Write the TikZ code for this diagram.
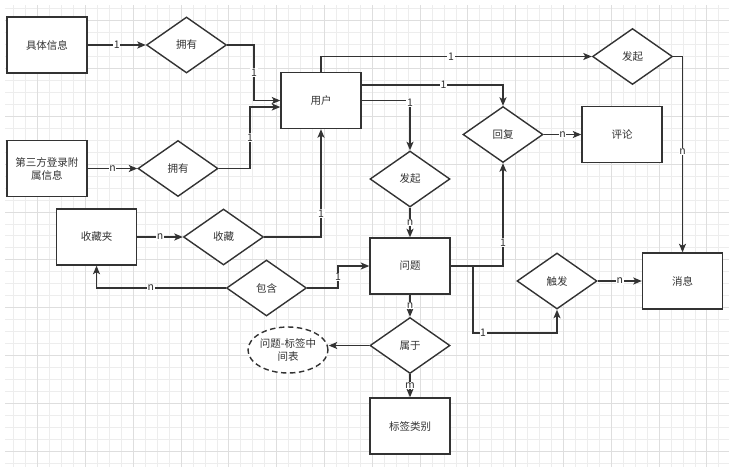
\documentclass[tikz,border=0pt]{standalone}
\usepackage{fontspec}
\setmainfont{Noto Sans CJK SC}
\usetikzlibrary{shapes.geometric,arrows.meta}
\definecolor{ln}{HTML}{333333}
\definecolor{gmin}{HTML}{EDEDED}
\definecolor{gmaj}{HTML}{DEDEDE}
\begin{document}
\begin{tikzpicture}[x=1pt,y=-1pt,
  ent/.style={draw=ln,line width=1.4pt,rectangle,minimum width=80pt,minimum height=56pt,inner sep=0pt,fill=white,text=ln,font=\fontsize{10.5}{13}\selectfont,align=center},
  rel/.style={draw=ln,line width=1.4pt,diamond,aspect=1.43,minimum width=80pt,minimum height=56pt,inner sep=0pt,fill=white,text=ln,font=\fontsize{10.5}{13}\selectfont},
  conn/.style={draw=ln,line width=1.35pt,-{Stealth[length=8.5pt,width=7pt,inset=2pt]}},
  lbl/.style={fill=white,inner sep=0.6pt,text=ln,font=\fontsize{10.5}{11}\selectfont},
]
\useasboundingbox[fill=white] (0,0) rectangle (729,467);
% grid
\begin{scope}
\clip (5,5) rectangle (729,467);
\foreach \i in {0,...,59} \draw[gmin,line width=0.9pt] ({13.8+11.95*\i},5) -- ({13.8+11.95*\i},467);
\foreach \j in {0,...,38} \draw[gmin,line width=0.9pt] (5,{8.85+11.95*\j}) -- (729,{8.85+11.95*\j});
\foreach \i in {0,...,14} \draw[gmaj,line width=0.9pt] ({37.7+47.8*\i},5) -- ({37.7+47.8*\i},467);
\foreach \j in {0,...,9} \draw[gmaj,line width=0.9pt] (5,{20.8+47.8*\j}) -- (729,{20.8+47.8*\j});
\end{scope}

% nodes
\node[ent] (info) at (47,45) {具体信息};
\node[rel] (own1) at (186.5,45) {拥有};
\node[ent] (user) at (321,100.5) {用户};
\node[ent] (third) at (47,168.5) {第三方登录附\\属信息};
\node[rel] (own2) at (178,168.5) {拥有};
\node[ent] (fav) at (96.5,237) {收藏夹};
\node[rel] (collect) at (223.5,237) {收藏};
\node[rel] (contain) at (266.5,288) {包含};
\node[draw=ln,line width=1.4pt,dash pattern=on 5.5pt off 3.5pt,ellipse,minimum width=80pt,minimum height=46pt,inner sep=0pt,fill=white,text=ln,font=\fontsize{10.5}{13}\selectfont,align=center] (mid) at (288,350) {问题-标签中\\间表};
\node[ent] (q) at (410,266) {问题};
\node[rel] (ask) at (410,179) {发起};
\node[rel] (reply) at (503,134.5) {回复};
\node[ent] (comment) at (622,134.5) {评论};
\node[rel] (start) at (632.5,56.5) {发起};
\node[rel] (trig) at (557,281) {触发};
\node[ent] (msg) at (682.5,281) {消息};
\node[rel] (belong) at (410,345.5) {属于};
\node[ent] (tag) at (410,426) {标签类别};

% bend points
\coordinate (b1) at (254,100.5);
\coordinate (b2) at (250,107);
\coordinate (b3) at (338,288);
\coordinate (b4) at (473,266);
\coordinate (b5) at (473,333);

% connectors
\draw[conn] (info) -- node[lbl]{1} (own1);
\draw[conn] (own1.east) -| node[lbl,pos=0.75]{1} (b1) -- (user.west);
\draw[conn] (third) -- node[lbl]{n} (own2);
\draw[conn] (own2.east) -| node[lbl,pos=0.75]{1} (b2) -- (b2 -| user.west);
\draw[conn] (fav) -- node[lbl]{n} (collect);
\draw[conn] (collect.east) -| node[lbl,pos=0.61]{1} (user.south);
\draw[conn] (contain.west) -| node[lbl,pos=0.29]{n} (fav.south);
\draw[conn] (contain.east) -- (b3) -- node[lbl]{1} (b3 |- q.west) -- (q.west);
\draw[conn] (user.north) |- node[lbl,pos=0.74]{1} (start.west);
\draw[conn] ([yshift=15.5pt]user.east) -| node[lbl,pos=0.29]{1} (reply.north);
\draw[conn] (user.east) -| node[lbl,pos=0.52]{1} (ask.north);
\draw[conn] (reply) -- node[lbl]{n} (comment);
\draw[conn] (start.east) -| node[lbl,pos=0.743]{n} (msg.north);
\draw[conn] (ask) -- node[lbl]{n} (q);
\draw[conn] (q.east) -| node[lbl,pos=0.615]{1} (reply.south);
\draw[conn] (q.east) -- (b4) -- (b5) -| node[lbl,pos=0.06]{1} (trig.south);
\draw[conn] (trig) -- node[lbl]{n} (msg);
\draw[conn] (q) -- node[lbl]{n} (belong);
\draw[conn] (belong.west) -- (belong.west -| mid.east);
\draw[conn] (belong) -- node[lbl]{m} (tag);
\end{tikzpicture}
\end{document}
